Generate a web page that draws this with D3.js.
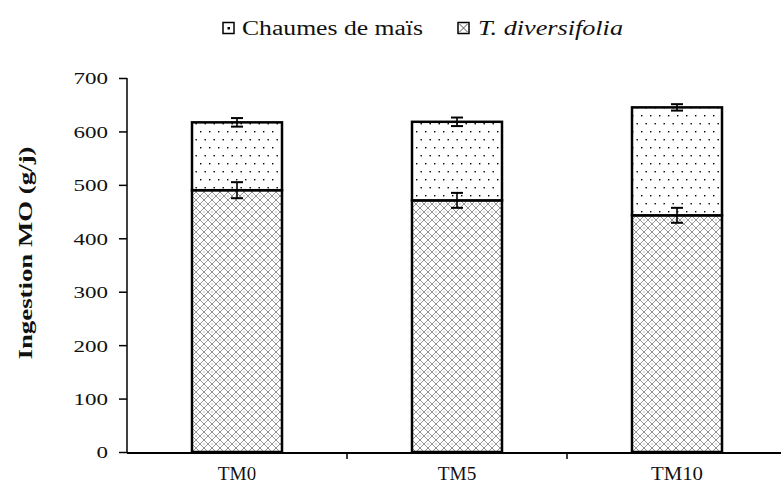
<!DOCTYPE html>
<html><head><meta charset="utf-8">
<script src="https://cdn.jsdelivr.net/npm/d3@7"></script>
<style>body{margin:0;background:#fff}svg{display:block}</style>
</head><body><svg id="c" width="781" height="486"></svg>
<script>
const categories = ["TM0", "TM5", "TM10"];
const diversifolia = [490, 471, 443];      // lower segment (T. diversifolia)
const chaumes = [127, 147, 202];           // upper segment (Chaumes de maïs)
const errDiversifolia = [15, 14, 14];
const errTotal = [8, 8, 6];
const yTicks = [0, 100, 200, 300, 400, 500, 600, 700];
const seriesNames = ["Chaumes de maïs", "T. diversifolia"];

const FONT = "'Liberation Serif'";
const svg = d3.select("#c");
const defs = svg.append("defs");
// dotted pattern
const pd = defs.append("pattern").attr("id","dots").attr("patternUnits","userSpaceOnUse")
  .attr("width",9).attr("height",16);
pd.append("rect").attr("width",9).attr("height",16).attr("fill","#fff");
pd.append("rect").attr("x",2).attr("y",3).attr("width",1.4).attr("height",1.4).attr("fill","#000");
pd.append("rect").attr("x",6.5).attr("y",11).attr("width",1.4).attr("height",1.4).attr("fill","#000");
// lattice pattern
const pl = defs.append("pattern").attr("id","lattice").attr("patternUnits","userSpaceOnUse")
  .attr("width",8).attr("height",8);
pl.append("rect").attr("width",8).attr("height",8).attr("fill","#fff");
pl.append("path").attr("d","M0,4 L4,0 L8,4 L4,8 Z").attr("fill","none").attr("stroke","#888").attr("stroke-width",0.9);
pl.append("rect").attr("x",3.4).attr("y",3.4).attr("width",1.2).attr("height",1.2).attr("fill","#999");

const y = d3.scaleLinear().domain([0,700]).range([452,78]);
const x = d3.scaleBand().domain(categories).range([127,787]).paddingInner(0).paddingOuter(0);
const bw = 90;

// y axis
const gy = svg.append("g").attr("transform","translate(127,0)")
  .call(d3.axisLeft(y).tickValues(yTicks).tickSize(8).tickFormat(d3.format("d")));
gy.attr("font-family", FONT);
gy.select(".domain").attr("stroke","#000").attr("stroke-width",1.5).attr("d","M0,78V453");
gy.selectAll(".tick line").attr("stroke","#000").attr("stroke-width",1.5);
gy.selectAll(".tick text").attr("x",-19).attr("dy","0.35em").attr("font-size",17).attr("fill","#111")
  .style("font-family", FONT)
  .attr("textLength", d => String(d).length*11.5).attr("lengthAdjust","spacingAndGlyphs");

// x axis
const gx = svg.append("g").attr("transform","translate(0,453)")
  .call(d3.axisBottom(x).tickSize(0).tickPadding(10));
gx.attr("font-family", FONT);
gx.select(".domain").attr("stroke","#000").attr("stroke-width",2).attr("d","M127,0H781");
gx.selectAll(".tick text").attr("font-size",19).attr("fill","#111").attr("dy","0.9em")
  .style("font-family", FONT)
  .attr("textLength", d => d.length*13.5 - 2).attr("lengthAdjust","spacingAndGlyphs");
// boundary ticks
svg.append("g").selectAll("line").data(categories.slice(1)).join("line")
  .attr("x1", d => x(d)).attr("x2", d => x(d)).attr("y1",453).attr("y2",459)
  .attr("stroke","#000").attr("stroke-width",1.5);

// bars
const bars = svg.append("g");
categories.forEach((c,i) => {
  const cx = x(c) + x.bandwidth()/2;
  const lower = diversifolia[i], total = diversifolia[i] + chaumes[i];
  bars.append("rect").attr("x",cx-bw/2).attr("y",y(lower)).attr("width",bw).attr("height",y(0)-y(lower))
    .attr("fill","url(#lattice)").attr("stroke","#000").attr("stroke-width",2.5);
  bars.append("rect").attr("x",cx-bw/2).attr("y",y(total)).attr("width",bw).attr("height",y(lower)-y(total))
    .attr("fill","url(#dots)").attr("stroke","#000").attr("stroke-width",2.5);
});
// error bars
const eb = svg.append("g").attr("stroke","#000").attr("stroke-width",1.6);
categories.forEach((c,i) => {
  const cx = x(c) + x.bandwidth()/2;
  [[diversifolia[i], errDiversifolia[i]], [diversifolia[i]+chaumes[i], errTotal[i]]].forEach(([v,e]) => {
    eb.append("line").attr("x1",cx).attr("x2",cx).attr("y1",y(v+e)).attr("y2",y(v-e));
    eb.append("line").attr("x1",cx-6).attr("x2",cx+6).attr("y1",y(v+e)).attr("y2",y(v+e)).attr("stroke-width",2);
    eb.append("line").attr("x1",cx-6).attr("x2",cx+6).attr("y1",y(v-e)).attr("y2",y(v-e)).attr("stroke-width",2);
  });
});

// y label
svg.append("text").attr("transform","translate(32,253) rotate(-90)").attr("text-anchor","middle")
  .style("font-family", FONT)
  .attr("font-size",19).attr("font-weight","bold").attr("fill","#111")
  .attr("textLength",213).attr("lengthAdjust","spacingAndGlyphs")
  .text("Ingestion MO (g/j)");

// legend
const lg = svg.append("g");
const legendItems = [
  {name: seriesNames[0], bx: 223, tx: 242, tl: 181, italic: false},
  {name: seriesNames[1], bx: 458, tx: 478, tl: 145, italic: true}
];
legendItems.forEach(it => {
  lg.append("rect").attr("x",it.bx).attr("y",22.5).attr("width",11).attr("height",11)
    .attr("fill","#fff").attr("stroke","#000").attr("stroke-width",1.5);
  if (!it.italic) {
    lg.append("rect").attr("x",it.bx+4.5).attr("y",27).attr("width",2.5).attr("height",2.5).attr("fill","#000");
  } else {
    lg.append("path").attr("d",`M${it.bx+1.5},24 L${it.bx+9.5},32 M${it.bx+9.5},24 L${it.bx+1.5},32`)
      .attr("stroke","#555").attr("stroke-width",1);
  }
  lg.append("text").attr("x",it.tx).attr("y",34.5).attr("font-size",20).attr("fill","#111")
    .style("font-family", FONT)
    .attr("font-style", it.italic ? "italic" : "normal")
    .attr("textLength",it.tl).attr("lengthAdjust","spacingAndGlyphs").text(it.name);
});
</script></body></html>
